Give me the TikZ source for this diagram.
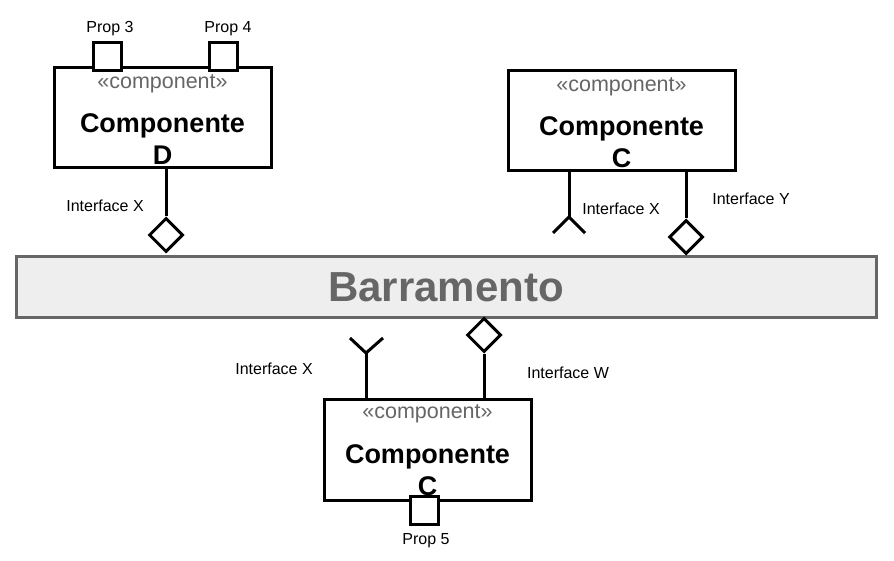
\documentclass[tikz,border=0pt]{standalone}
\usepackage{fontspec}
\setmainfont{Liberation Sans}
\usetikzlibrary{shapes.geometric}
\definecolor{stereogray}{HTML}{666666}
\definecolor{busfill}{HTML}{EEEEEE}
\begin{document}
\begin{tikzpicture}[x=1pt,y=-1pt,
  compbox/.style={draw,line width=3pt,minimum width=#1,minimum height=100pt,inner sep=0pt,fill=white},
  stereo/.style={text=stereogray,font=\fontsize{21.5}{21.5}\selectfont,inner sep=0pt},
  ctitle/.style={font=\bfseries\fontsize{27}{32}\selectfont,align=center,inner sep=0pt},
  lbl/.style={font=\fontsize{16}{16}\selectfont,inner sep=0pt},
  port/.style={draw,line width=3pt,minimum size=28pt,inner sep=0pt,fill=white},
  iface/.style={draw,diamond,line width=3pt,minimum width=34pt,minimum height=34pt,inner sep=0pt,fill=white},
  wire/.style={line width=3pt,line cap=butt}]
\useasboundingbox (0,0) rectangle (894,561);

% Bus
\node[draw=stereogray,fill=busfill,line width=3pt,minimum width=860pt,minimum height=60pt,inner sep=0pt,
  font=\bfseries\fontsize{42}{42}\selectfont,text=stereogray] (bus) at (446,287) {Barramento};

% Component D
\node[compbox=217pt] (compD) at (162.5,118) {};
\node[stereo] (stD) at (162.5,84) {«component»};
\node[ctitle] (tD) at (162.5,139) {Componente\\D};
\node[port] (p3) at (107,57) {};
\node[port] (p4) at (223,57) {};
\node[lbl] (lp3) at (110,29) {Prop 3};
\node[lbl] (lp4) at (228,29) {Prop 4};
\node[iface] (dD) at (166,235) {};
\draw[wire] (166,168) -- (dD.north);
\node[lbl] (lixD) at (105,206) {Interface X};

% Component C (top)
\node[compbox=227pt] (compC) at (621.5,121) {};
\node[stereo] (stC) at (621.5,87) {«component»};
\node[ctitle] (tC) at (621.5,142) {Componente\\C};
\coordinate (sockC) at (569,217);
\coordinate (sockCl) at (553,233);
\coordinate (sockCr) at (585,233);
\draw[wire] (569,171) -- (sockC);
\draw[wire] (sockCl) -- (sockC) -- (sockCr);
\node[iface] (dC) at (686,237) {};
\draw[wire] (686,171) -- (dC.north);
\node[lbl] (lixC) at (621,209) {Interface X};
\node[lbl] (liyC) at (751,199) {Interface Y};

% Component C (bottom)
\node[compbox=207pt,minimum height=101pt] (compB) at (427.5,449.5) {};
\node[stereo] (stB) at (427.5,414) {«component»};
\node[ctitle] (tB) at (427.5,470) {Componente\\C};
\coordinate (sockB) at (366,353);
\coordinate (sockBl) at (350,338);
\coordinate (sockBr) at (383,338);
\draw[wire] (366,399) -- (sockB);
\draw[wire] (sockBl) -- (sockB) -- (sockBr);
\node[iface] (dB) at (484,335) {};
\draw[wire] (484,399) -- (dB.south);
\node[port] (p5) at (424,510) {};
\node[lbl] (lp5) at (426,541) {Prop 5};
\node[lbl] (lixB) at (274,369) {Interface X};
\node[lbl] (liwB) at (568,373) {Interface W};
\end{tikzpicture}
\end{document}
